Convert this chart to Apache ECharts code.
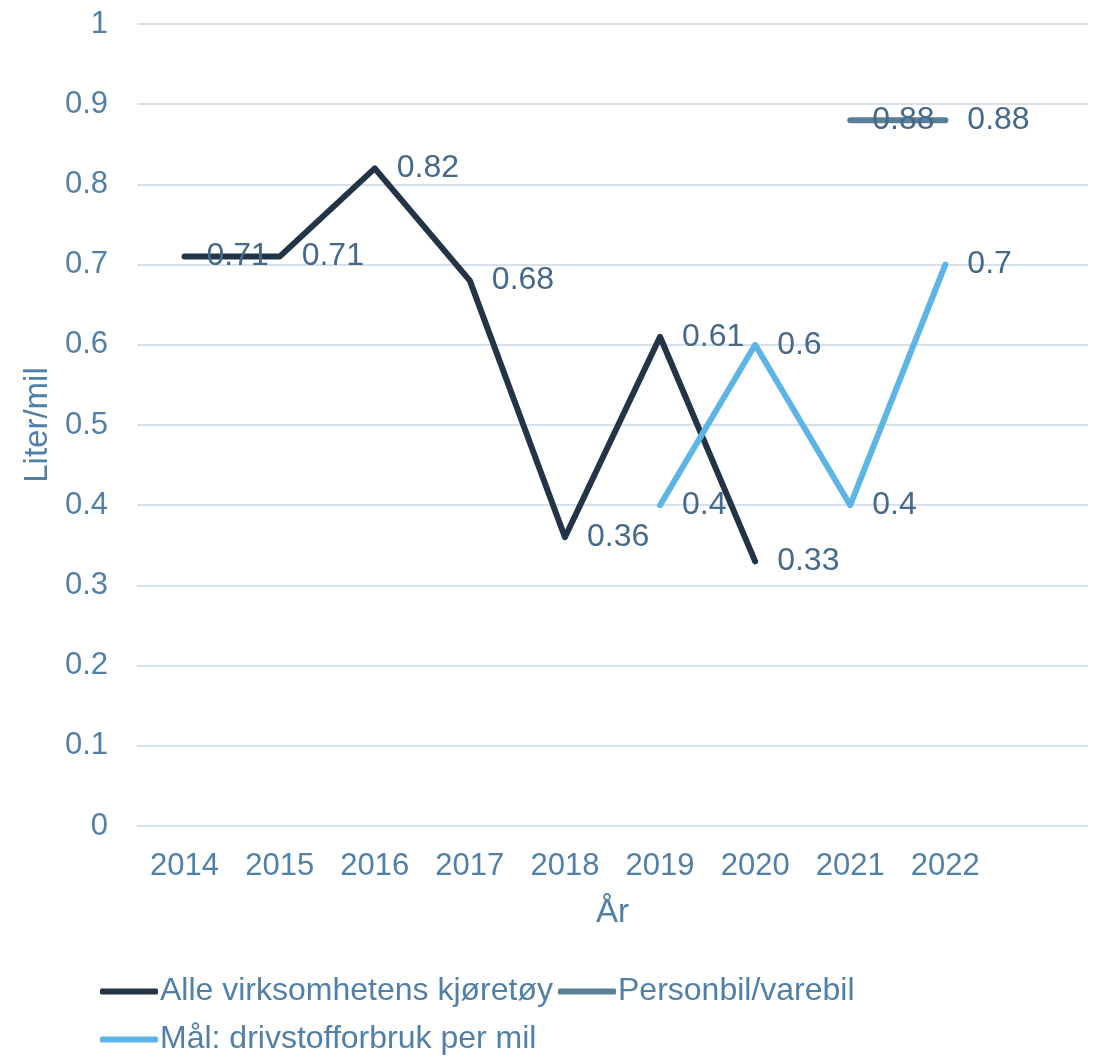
<!DOCTYPE html>
<html><head><meta charset="utf-8">
<script src="https://cdn.jsdelivr.net/npm/echarts@6/dist/echarts.min.js"></script>
<style>html,body{margin:0;padding:0;background:#fff}#c{width:1099px;height:1058px}</style>
</head><body><div id="c"></div>
<script>
const categories = ['2014','2015','2016','2017','2018','2019','2020','2021','2022',''];
const alleVirksomhetens = [0.71, 0.71, 0.82, 0.68, 0.36, 0.61, 0.33, null, null, null];
const personbil = [null, null, null, null, null, null, null, 0.88, 0.88, null];
const maal = [null, null, null, null, null, 0.4, 0.6, 0.4, 0.7, null];
const seriesNames = ['Alle virksomhetens kjøretøy', 'Personbil/varebil', 'Mål: drivstofforbruk per mil'];

const font = 'Liberation Sans, Arial, sans-serif';
const tickColor = '#5080A8';
const labelColor = '#44698A';
function mk(name, data, color) {
  return {
    name, type: 'line', data, symbol: 'circle', symbolSize: 2, showSymbol: true, connectNulls: false,
    lineStyle: { color, width: 6, cap: 'round', join: 'round' },
    itemStyle: { color },
    label: { show: true, position: 'right', distance: 21, color: labelColor, fontSize: 32, fontFamily: font },
    emphasis: { disabled: true }, animation: false
  };
}
const chart = echarts.init(document.getElementById('c'));
chart.setOption({
  animation: false,
  grid: { left: 137, right: 11, top: 24, bottom: 232, containLabel: false, outerBoundsMode: 'none' },
  xAxis: {
    type: 'category', data: categories, boundaryGap: true,
    axisLine: { show: false }, axisTick: { show: false },
    axisLabel: { color: tickColor, fontSize: 31, fontFamily: font, margin: 25, interval: 0 },
    name: 'År', nameLocation: 'middle', nameGap: 70,
    nameTextStyle: { color: tickColor, fontSize: 33, fontFamily: font }
  },
  yAxis: {
    type: 'value', min: 0, max: 1, interval: 0.1,
    axisLine: { show: false }, axisTick: { show: false },
    splitLine: { lineStyle: { color: '#D6E0EA', width: 2 } },
    axisLabel: { color: tickColor, fontSize: 31, fontFamily: font, margin: 29,
      formatter: v => String(Math.round(v * 10) / 10) },
    name: 'Liter/mil', nameLocation: 'middle', nameGap: 83,
    nameTextStyle: { color: tickColor, fontSize: 33, fontFamily: font }
  },
  legend: {
    left: 95, top: 965, width: 800, itemGap: 5, itemWidth: 58, itemHeight: 6,
    icon: 'roundRect',
    textStyle: { color: tickColor, fontSize: 32, fontFamily: font, lineHeight: 43, padding: [0, 0, 0, -3] },
    data: seriesNames
  },
  series: [
    mk(seriesNames[0], alleVirksomhetens, '#243447'),
    mk(seriesNames[1], personbil, '#5A7F99'),
    mk(seriesNames[2], maal, '#5DB5E6')
  ]
});
</script></body></html>
